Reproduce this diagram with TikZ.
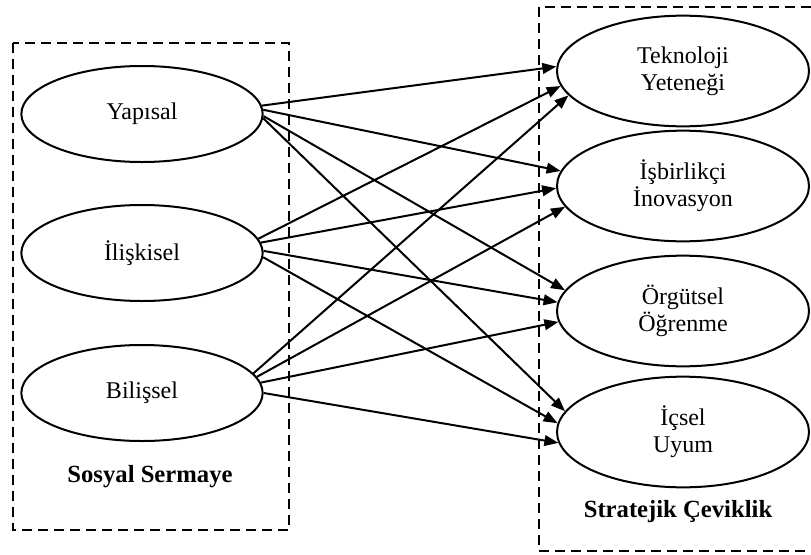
\documentclass[tikz,border=0pt]{standalone}
\usepackage{fontspec}
\setmainfont{Liberation Serif}
\usetikzlibrary{shapes.geometric, arrows.meta}

\begin{document}
\begin{tikzpicture}[x=0.75pt, y=-0.75pt, line width=1.5pt,
  font=\fontsize{18}{20}\selectfont,
  lft/.style={draw, ellipse, inner sep=0pt, minimum width=181pt, minimum height=72pt},
  rgt/.style={draw, ellipse, inner sep=0pt, minimum width=189pt, minimum height=83pt, align=center},
  grp/.style={dash pattern=on 7.5pt off 4.5pt},
  lnk/.style={-{Triangle[length=10.5pt, width=8pt]}}]
\useasboundingbox (0,0) rectangle (811,554);
% groups
\draw[grp] (13,43) rectangle (289,530);
\draw[grp] (811,7) -- (539,7) -- (539,551) -- (811,551);
\node[font=\fontsize{18.5}{20}\selectfont\bfseries] (ss) at (150,477) {Sosyal Sermaye};
\node[font=\fontsize{18.5}{20}\selectfont\bfseries] (sc) at (678,512) {Stratejik Çeviklik};
% left
\node[lft] (s1) at (142,114) {Yapısal};
\node[lft] (s2) at (142,253) {İlişkisel};
\node[lft] (s3) at (142,393) {Bilişsel};
% right
\node[rgt] (c1) at (683,71) {Teknoloji\\Yeteneği};
\node[rgt] (c2) at (683,186) {İşbirlikçi\\İnovasyon};
\node[rgt] (c3) at (683,311) {Örgütsel\\Öğrenme};
\node[rgt] (c4) at (683,432) {İçsel\\Uyum};
% links
\draw[lnk] (s1.4) -- (c1.178);
\draw[lnk] (s1.2) -- (c2.173);
\draw[lnk] (s1.-1) -- (c3.170);
\draw[lnk] (s1.-2) -- (c4.170);
\draw[lnk] (s2.7) -- (c1.187);
\draw[lnk] (s2.5) -- (c2.181);
\draw[lnk] (s2.1) -- (c3.176);
\draw[lnk] (s2.-2) -- (c4.176);
\draw[lnk] (s3.10) -- (c1.192);
\draw[lnk] (s3.8) -- (c2.190);
\draw[lnk] (s3.5) -- (c3.185);
\draw[lnk] (s3.0) -- (c4.185);
\end{tikzpicture}
\end{document}
